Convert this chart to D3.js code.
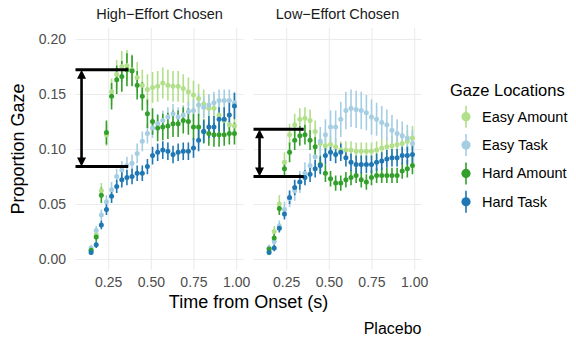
<!DOCTYPE html>
<html>
<head>
<meta charset="utf-8">
<script src="https://cdn.jsdelivr.net/npm/d3@7"></script>
<style>
  body { margin: 0; background: #fff; }
  svg { display: block; font-family: "Liberation Sans", Arial, sans-serif; }
</style>
</head>
<body>
<svg id="chart" width="576" height="338"></svg>
<script>
// facet labels and legend entries
var panels = ["High\u2212Effort Chosen", "Low\u2212Effort Chosen"];
var gazeLocations = ["Easy Amount", "Easy Task", "Hard Amount", "Hard Task"];

var times = [0.15, 0.18, 0.21, 0.24, 0.27, 0.30, 0.33, 0.36, 0.39, 0.42, 0.45, 0.48, 0.51, 0.54, 0.57,
    0.60, 0.63, 0.66, 0.69, 0.72, 0.75, 0.78, 0.81, 0.84, 0.87, 0.90, 0.93, 0.96, 0.99];

// High-Effort Chosen
var highEasyAmount = [0.008, 0.022, 0.062, 0.113, 0.152, 0.168, 0.175, 0.176, 0.172, 0.165, 0.158, 0.154, 0.156, 0.157, 0.160,
    0.158, 0.157, 0.157, 0.155, 0.152, 0.149, 0.146, 0.141, 0.137, 0.137, 0.131, 0.126, 0.122, 0.121];
var highEasyTask = [0.010, 0.026, 0.040, 0.052, 0.063, 0.075, 0.081, 0.085, 0.087, 0.096, 0.107, 0.114, 0.119, 0.123, 0.126,
    0.129, 0.132, 0.129, 0.131, 0.134, 0.135, 0.140, 0.138, 0.140, 0.142, 0.144, 0.144, 0.144, 0.142];
var highHardAmount = [0.008, 0.020, 0.058, 0.115, 0.148, 0.163, 0.166, 0.172, 0.171, 0.158, 0.148, 0.132, 0.125, 0.119, 0.120,
    0.121, 0.123, 0.123, 0.126, 0.125, 0.120, 0.120, 0.116, 0.114, 0.113, 0.113, 0.113, 0.114, 0.114];
var highHardTask = [0.006, 0.013, 0.031, 0.045, 0.057, 0.066, 0.072, 0.074, 0.075, 0.078, 0.078, 0.084, 0.094, 0.097, 0.099,
    0.098, 0.095, 0.097, 0.098, 0.098, 0.101, 0.108, 0.116, 0.120, 0.120, 0.127, 0.127, 0.131, 0.139];

var highEasyAmountSe = [0.003, 0.005, 0.007, 0.010, 0.012, 0.013, 0.014, 0.014, 0.014, 0.014, 0.014, 0.014, 0.014, 0.014, 0.014,
    0.014, 0.014, 0.014, 0.013, 0.013, 0.013, 0.013, 0.013, 0.012, 0.012, 0.012, 0.012, 0.011, 0.011];
var highEasyTaskSe = [0.003, 0.004, 0.005, 0.006, 0.007, 0.007, 0.008, 0.008, 0.008, 0.009, 0.009, 0.009, 0.009, 0.009, 0.009,
    0.009, 0.009, 0.009, 0.009, 0.009, 0.010, 0.010, 0.010, 0.010, 0.010, 0.010, 0.010, 0.010, 0.010];
var highHardAmountSe = [0.003, 0.004, 0.007, 0.011, 0.012, 0.013, 0.014, 0.015, 0.014, 0.013, 0.013, 0.013, 0.012, 0.012, 0.012,
    0.012, 0.012, 0.012, 0.012, 0.012, 0.012, 0.012, 0.011, 0.011, 0.011, 0.011, 0.010, 0.010, 0.010];
var highHardTaskSe = [0.002, 0.003, 0.004, 0.005, 0.006, 0.006, 0.007, 0.007, 0.007, 0.007, 0.007, 0.007, 0.008, 0.008, 0.008,
    0.008, 0.008, 0.008, 0.008, 0.008, 0.009, 0.010, 0.010, 0.010, 0.010, 0.011, 0.011, 0.011, 0.012];

// Low-Effort Chosen
var lowEasyAmount = [0.007, 0.025, 0.050, 0.088, 0.113, 0.122, 0.127, 0.128, 0.126, 0.116, 0.105, 0.103, 0.104, 0.102, 0.099,
    0.099, 0.099, 0.098, 0.098, 0.098, 0.098, 0.099, 0.101, 0.102, 0.103, 0.104, 0.105, 0.107, 0.110];
var lowEasyTask = [0.010, 0.016, 0.030, 0.045, 0.055, 0.062, 0.070, 0.078, 0.085, 0.093, 0.107, 0.113, 0.120, 0.120, 0.127,
    0.135, 0.137, 0.136, 0.135, 0.133, 0.129, 0.127, 0.124, 0.122, 0.117, 0.114, 0.112, 0.110, 0.105];
var lowHardAmount = [0.009, 0.019, 0.046, 0.082, 0.097, 0.108, 0.112, 0.113, 0.108, 0.102, 0.086, 0.078, 0.073, 0.069, 0.069,
    0.072, 0.074, 0.076, 0.072, 0.070, 0.074, 0.076, 0.076, 0.076, 0.076, 0.076, 0.080, 0.082, 0.085];
var lowHardTask = [0.006, 0.010, 0.028, 0.041, 0.056, 0.065, 0.070, 0.074, 0.077, 0.082, 0.085, 0.094, 0.097, 0.095, 0.097,
    0.092, 0.088, 0.086, 0.086, 0.086, 0.086, 0.088, 0.089, 0.091, 0.092, 0.092, 0.094, 0.094, 0.095];

var lowEasyAmountSe = [0.003, 0.005, 0.008, 0.009, 0.010, 0.010, 0.010, 0.010, 0.010, 0.010, 0.009, 0.008, 0.008, 0.008, 0.008,
    0.008, 0.008, 0.008, 0.008, 0.008, 0.008, 0.008, 0.008, 0.009, 0.009, 0.009, 0.010, 0.010, 0.011];
var lowEasyTaskSe = [0.003, 0.004, 0.005, 0.007, 0.008, 0.009, 0.010, 0.010, 0.011, 0.012, 0.013, 0.014, 0.015, 0.015, 0.016,
    0.017, 0.017, 0.017, 0.017, 0.016, 0.016, 0.015, 0.015, 0.014, 0.014, 0.013, 0.013, 0.012, 0.012];
var lowHardAmountSe = [0.003, 0.004, 0.006, 0.008, 0.009, 0.009, 0.009, 0.009, 0.009, 0.009, 0.008, 0.008, 0.007, 0.007, 0.007,
    0.007, 0.007, 0.007, 0.007, 0.007, 0.007, 0.007, 0.007, 0.007, 0.007, 0.007, 0.007, 0.008, 0.008];
var lowHardTaskSe = [0.002, 0.003, 0.004, 0.005, 0.006, 0.007, 0.007, 0.007, 0.007, 0.008, 0.008, 0.008, 0.008, 0.008, 0.008,
    0.008, 0.008, 0.008, 0.008, 0.008, 0.008, 0.008, 0.008, 0.008, 0.008, 0.008, 0.008, 0.008, 0.008];

var xTicks = [0.25, 0.50, 0.75, 1.00];
var yTicks = [0.00, 0.05, 0.10, 0.15, 0.20];

// bracket annotations (top, bottom, right end), one per panel
var bracketTop = [0.172, 0.118];
var bracketBottom = [0.084, 0.075];
var bracketEnd = [0.367, 0.353];
var bracketArrowX = [0.094, 0.094];

var palette = ["#B2DF8A", "#A6CEE3", "#33A02C", "#1F78B4"];

var panelData = [
    [highEasyAmount, highEasyTask, highHardAmount, highHardTask],
    [lowEasyAmount, lowEasyTask, lowHardAmount, lowHardTask]
];
var panelSe = [
    [highEasyAmountSe, highEasyTaskSe, highHardAmountSe, highHardTaskSe],
    [lowEasyAmountSe, lowEasyTaskSe, lowHardAmountSe, lowHardTaskSe]
];

var panelLeft = [75.5, 253.5];
var panelWidth = 168;
var panelTop = 28, panelBottom = 270;

var svg = d3.select("#chart");
var color = d3.scaleOrdinal().domain(gazeLocations).range(palette);

var y = d3.scaleLinear()
    .domain([-0.01, 0.21])
    .range([panelBottom, panelTop]);

panels.forEach(function (title, p) {
    var x = d3.scaleLinear()
        .domain([0.0586, 1.043])
        .range([panelLeft[p], panelLeft[p] + panelWidth]);

    var g = svg.append("g");

    // gridlines + tick labels
    var xAxis = g.append("g")
        .attr("transform", `translate(0,${panelBottom})`)
        .call(d3.axisBottom(x).tickValues(xTicks).tickFormat(d3.format(".2f"))
            .tickSizeInner(-(panelBottom - panelTop)).tickSizeOuter(0).tickPadding(7.5));
    xAxis.select(".domain").remove();
    xAxis.selectAll("line").attr("stroke", "#EBEBEB").attr("stroke-width", 1.1);
    xAxis.selectAll("text").attr("fill", "#4D4D4D").attr("font-size", "14px")
        .attr("font-family", "Liberation Sans, Arial, sans-serif");

    var yAxis = g.append("g")
        .attr("transform", `translate(${panelLeft[p]},0)`)
        .call(d3.axisLeft(y).tickValues(yTicks).tickFormat(d3.format(".2f"))
            .tickSizeInner(-panelWidth).tickSizeOuter(0).tickPadding(9.5));
    yAxis.select(".domain").remove();
    yAxis.selectAll("line").attr("stroke", "#EBEBEB").attr("stroke-width", 1.1);
    if (p === 0) {
        yAxis.selectAll("text").attr("fill", "#4D4D4D").attr("font-size", "14px")
            .attr("font-family", "Liberation Sans, Arial, sans-serif");
    } else {
        yAxis.selectAll("text").remove();
    }

    // strip title
    g.append("text")
        .attr("x", panelLeft[p] + panelWidth / 2)
        .attr("y", 19)
        .attr("text-anchor", "middle")
        .attr("font-size", "14.5px")
        .attr("fill", "#1A1A1A")
        .text(title);

    var clipId = "clip" + p;
    svg.append("clipPath").attr("id", clipId)
        .append("rect")
        .attr("x", panelLeft[p]).attr("y", panelTop)
        .attr("width", panelWidth).attr("height", panelBottom - panelTop);

    var plot = g.append("g").attr("clip-path", `url(#${clipId})`);

    var series = gazeLocations.map(function (name, i) {
        return {
            name: name,
            points: times.map(function (t, k) {
                return { t: t, v: panelData[p][i][k], se: panelSe[p][i][k] };
            })
        };
    });

    // error bars first, then points (same as pointrange)
    plot.append("g")
        .selectAll("g")
        .data(series)
        .join("g")
        .attr("stroke", (d) => color(d.name))
        .attr("stroke-width", 1.6)
        .selectAll("line")
        .data((d) => d.points)
        .join("line")
        .attr("x1", (d) => x(d.t))
        .attr("x2", (d) => x(d.t))
        .attr("y1", (d) => y(d.v - d.se))
        .attr("y2", (d) => y(d.v + d.se));

    plot.append("g")
        .selectAll("g")
        .data(series)
        .join("g")
        .attr("fill", (d) => color(d.name))
        .selectAll("circle")
        .data((d) => d.points)
        .join("circle")
        .attr("cx", (d) => x(d.t))
        .attr("cy", (d) => y(d.v))
        .attr("r", 2.5);

    // bracket with double arrow
    var ax = x(bracketArrowX[p]);
    var yT = y(bracketTop[p]), yB = y(bracketBottom[p]);
    [bracketTop[p], bracketBottom[p]].forEach(function (v) {
        plot.append("line")
            .attr("x1", x(0.0)).attr("x2", x(bracketEnd[p]))
            .attr("y1", y(v)).attr("y2", y(v))
            .attr("stroke", "black").attr("stroke-width", 3);
    });
    plot.append("line")
        .attr("x1", ax).attr("x2", ax)
        .attr("y1", yT + 6).attr("y2", yB - 6)
        .attr("stroke", "black").attr("stroke-width", 2.6);
    plot.append("path")
        .attr("d", `M${ax},${yT}L${ax - 4.5},${yT + 9}L${ax + 4.5},${yT + 9}Z`
            + `M${ax},${yB}L${ax - 4.5},${yB - 9}L${ax + 4.5},${yB - 9}Z`)
        .attr("fill", "black");
});

// axis titles
svg.append("text")
    .attr("x", (panelLeft[0] + panelLeft[1] + panelWidth) / 2)
    .attr("y", 308)
    .attr("text-anchor", "middle")
    .attr("font-size", "18px")
    .text("Time from Onset (s)");

svg.append("text")
    .attr("transform", `translate(24,${(panelTop + panelBottom) / 2}) rotate(-90)`)
    .attr("text-anchor", "middle")
    .attr("font-size", "18px")
    .text("Proportion Gaze");

svg.append("text")
    .attr("x", panelLeft[1] + panelWidth)
    .attr("y", 334)
    .attr("text-anchor", "end")
    .attr("font-size", "16px")
    .text("Placebo");

// legend
var legend = svg.append("g");
legend.append("text")
    .attr("x", 450)
    .attr("y", 96)
    .attr("font-size", "16.5px")
    .text("Gaze Locations");

var item = legend.selectAll("g.item")
    .data(gazeLocations)
    .join("g")
    .attr("class", "item")
    .attr("transform", (d, i) => `translate(466,${116.7 + i * 28.35})`);

item.append("line")
    .attr("y1", -11).attr("y2", 11)
    .attr("stroke", (d) => color(d))
    .attr("stroke-width", 1.6);
item.append("circle")
    .attr("r", 4.6)
    .attr("fill", (d) => color(d));
item.append("text")
    .attr("x", 16)
    .attr("dy", "0.35em")
    .attr("font-size", "14.5px")
    .text((d) => d);
</script>
</body>
</html>
